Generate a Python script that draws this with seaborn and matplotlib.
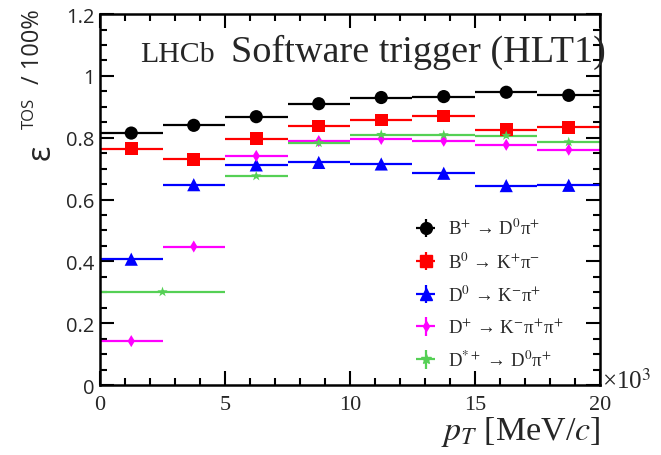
import numpy as np
import pandas as pd
import matplotlib
matplotlib.use("Agg")
import matplotlib.pyplot as plt
from matplotlib.ticker import MultipleLocator
import seaborn as sns

# pT bin edges in units of 10^3 MeV/c
pt_edges = [0, 2.5, 5, 7.5, 10, 12.5, 15, 17.5, 20]
dst_edges = [0, 5, 7.5, 10, 12.5, 15, 17.5, 20]

# HLT1 TOS efficiencies per pT bin
eff_bu = [0.815, 0.840, 0.868, 0.910, 0.930, 0.933, 0.947, 0.937]
eff_bd = [0.765, 0.730, 0.797, 0.838, 0.857, 0.870, 0.826, 0.834]
eff_d0 = [0.407, 0.648, 0.712, 0.720, 0.715, 0.685, 0.645, 0.646]
eff_dp = [0.142, 0.448, 0.741, 0.789, 0.796, 0.790, 0.777, 0.761]
eff_dst = [0.301, 0.676, 0.783, 0.810, 0.809, 0.807, 0.786]

# statistical uncertainties
err_bu = [0.006, 0.005, 0.005, 0.005, 0.005, 0.006, 0.007, 0.008]
err_bd = [0.008, 0.007, 0.007, 0.007, 0.008, 0.010, 0.012, 0.016]
err_d0 = [0.006, 0.005, 0.005, 0.005, 0.005, 0.005, 0.006, 0.006]
err_dp = [0.006, 0.006, 0.010, 0.008, 0.008, 0.008, 0.009, 0.010]
err_dst = [0.005, 0.005, 0.005, 0.006, 0.006, 0.007, 0.008]

labels = [
    "B$^{+}$ → D$^{0}$π$^{+}$",
    "B$^{0}$ → K$^{+}$π$^{-}$",
    "D$^{0}$ → K$^{-}$π$^{+}$",
    "D$^{+}$ → K$^{-}$π$^{+}$π$^{+}$",
    "D$^{*+}$ → D$^{0}$π$^{+}$",
]
colors = ["#000000", "#ff0000", "#0000ff", "#ff00ff", "#55d055"]
markers = ["o", "s", "^", "d", "*"]
scatter_sizes = [90, 85, 90, 38, 60]
legend_ms = [8.5, 8.5, 8.5, 5.5, 7.5]

series = [
    (pt_edges, eff_bu, err_bu),
    (pt_edges, eff_bd, err_bd),
    (pt_edges, eff_d0, err_d0),
    (pt_edges, eff_dp, err_dp),
    (dst_edges, eff_dst, err_dst),
]

rows = []
for lab, (edges, eff, err) in zip(labels, series):
    e = np.asarray(edges, dtype=float)
    centers = 0.5 * (e[1:] + e[:-1])
    halfw = 0.5 * (e[1:] - e[:-1])
    for c, h, v, s in zip(centers, halfw, eff, err):
        rows.append(dict(channel=lab, pt=c, hw=h, eff=v, err=s))
df = pd.DataFrame(rows)

sns.set_theme(style="ticks")
plt.rcParams["font.family"] = ["Liberation Serif", "DejaVu Sans"]
plt.rcParams["mathtext.fontset"] = "stix"

W, H = 661, 456
fig = plt.figure(figsize=(W / 100, H / 100), dpi=100)
ax = fig.add_axes([0.1513, 0.1535, 0.7564, 0.8135])

# bin-width and uncertainty bars
for lab, col in zip(labels, colors):
    d = df[df.channel == lab]
    ax.errorbar(d.pt, d.eff, xerr=d.hw, yerr=d.err, fmt="none",
                ecolor=col, elinewidth=1.6, capsize=0, zorder=2)

# markers
sns.scatterplot(data=df, x="pt", y="eff", hue="channel", style="channel",
                size="channel",
                palette=dict(zip(labels, colors)),
                markers=dict(zip(labels, markers)),
                sizes=dict(zip(labels, scatter_sizes)),
                linewidth=0, legend=False, ax=ax, zorder=3)

# legend with crosshair-style handles
handles = []
for lab, col, m, ms in zip(labels, colors, markers, legend_ms):
    h = ax.errorbar([np.nan], [np.nan], xerr=[1], yerr=[1], fmt=m, color=col,
                    ms=ms, elinewidth=1.6, capsize=0, label=lab)
    handles.append(h)
leg = ax.legend(handles=handles, labels=labels, loc="lower left",
                bbox_to_anchor=(0.585, -0.005), frameon=False, fontsize=13.5,
                handlelength=1.75, handletextpad=0.3, labelspacing=0.68)

ax.set_xlim(0, 20)
ax.set_ylim(0, 1.2)
ax.xaxis.set_minor_locator(MultipleLocator(1))
ax.yaxis.set_minor_locator(MultipleLocator(0.05))
ax.tick_params(which="both", direction="in", top=True, right=True,
               width=1.5, color="black")
ax.tick_params(which="major", length=10)
ax.tick_params(which="minor", length=5)
ax.tick_params(axis="x", pad=7)
ax.tick_params(axis="y", pad=4)
ax.set_yticks([0, 0.2, 0.4, 0.6, 0.8, 1.0, 1.2])
ax.set_yticklabels(["0", "0.2", "0.4", "0.6", "0.8", "1", "1.2"],
                   family=["Open Sans", "DejaVu Sans"], fontsize=14.5)
ax.set_xticks([0, 5, 10, 15, 20])
ax.set_xticklabels(["0", "5", "10", "15", "20"], fontsize=16)
for sp in ax.spines.values():
    sp.set_linewidth(1.8)
    sp.set_color("black")

ax.set_xlabel("$p_{T}$ [MeV/$c$]", fontsize=24.5, loc="right", labelpad=0)
ax.set_ylabel("")

# y-axis title: large epsilon, TOS superscript, then "/ 100%"
sans = ["Open Sans", "DejaVu Sans"]
fig.text(41 / W, 1 - 152 / H, "ε", rotation=90, fontsize=23, family=sans,
         ha="center", va="center")
fig.text(30 / W, 1 - 113 / H, "TOS", rotation=90, fontsize=12, family=sans,
         ha="center", va="center")
fig.text(33 / W, 1 - 47 / H, "/ 100%", rotation=90, fontsize=17, family=sans,
         ha="center", va="center")

ax.text(1.005, 0.045, "×10$^{3}$", transform=ax.transAxes, fontsize=18,
        ha="left", va="top")
ax.text(0.08, 0.874, "LHCb", transform=ax.transAxes, fontsize=21.5,
        ha="left", va="baseline")
ax.text(0.262, 0.874, "Software trigger (HLT1)", transform=ax.transAxes,
        fontsize=27.5, ha="left", va="baseline")

fig.savefig("out.png", dpi=100)
